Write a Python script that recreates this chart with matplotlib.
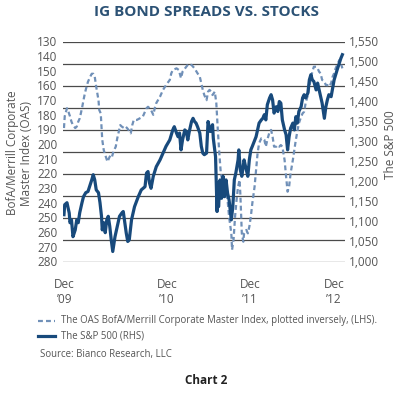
import numpy as np
import matplotlib
matplotlib.use("Agg")
import matplotlib.pyplot as plt

plt.rcParams['font.family'] = ['Open Sans', 'DejaVu Sans']

# months since end of Dec 2009
sp_month = [0.0, 0.1, 0.4, 0.7, 0.8, 1.0, 1.2, 1.5, 1.7, 1.9, 2.1, 2.4, 2.6, 2.9, 3.2, 3.5, 3.7, 3.9,
            4.1, 4.3, 4.6, 4.8, 5.0, 5.1, 5.3, 5.5, 5.7, 5.9, 6.1, 6.3, 6.5, 6.8, 7.0, 7.2, 7.4, 7.7,
            7.9, 8.1, 8.3, 8.5, 8.7, 9.0, 9.4, 9.9, 10.3, 10.8, 11.0, 11.2, 11.4, 11.6, 11.9, 12.3,
            12.8, 13.2, 13.6, 14.1, 14.5, 14.7, 15.0, 15.2, 15.4, 15.6, 15.8, 16.1, 16.3, 16.5, 16.7,
            17.0, 17.2, 17.4, 17.6, 17.8, 18.1, 18.3, 18.5, 18.7, 19.0, 19.2, 19.5, 19.8, 19.9, 20.2,
            20.4, 20.5, 20.6, 20.8, 21.0, 21.2, 21.4, 21.6, 21.8, 22.0, 22.3, 22.5, 22.7, 22.9, 23.2,
            23.3, 23.5, 23.7, 24.0, 24.2, 24.5, 24.7, 24.9, 25.1, 25.6, 25.8, 26.0, 26.3, 26.5, 26.7,
            26.9, 27.1, 27.4, 27.6, 27.8, 28.0, 28.3, 28.5, 28.7, 28.9, 29.1, 29.4, 29.6, 29.8, 30.0,
            30.2, 30.5, 30.7, 30.9, 31.1, 31.3, 31.6, 31.8, 32.0, 32.2, 32.5, 32.7, 32.9, 33.1, 33.3,
            33.6, 33.8, 34.0, 34.2, 34.4, 34.7, 34.9, 35.1, 35.3, 35.6, 35.8, 36.0, 36.2, 36.4, 36.7,
            36.9, 37.1]
sp500 = [1117, 1142, 1147, 1121, 1097, 1104, 1062, 1079, 1104, 1097, 1122, 1147, 1162, 1172, 1175, 1192,
         1204, 1217, 1204, 1179, 1172, 1147, 1113, 1079, 1097, 1072, 1104, 1113, 1088, 1054, 1025, 1062,
         1079, 1097, 1113, 1121, 1125, 1097, 1071, 1050, 1054, 1104, 1137, 1162, 1179, 1187, 1221, 1225,
         1196, 1183, 1213, 1237, 1254, 1271, 1288, 1304, 1329, 1337, 1321, 1312, 1321, 1279, 1304, 1329,
         1325, 1304, 1325, 1350, 1358, 1350, 1346, 1337, 1321, 1288, 1271, 1267, 1271, 1350, 1325, 1342,
         1308, 1262, 1125, 1197, 1137, 1204, 1158, 1213, 1162, 1204, 1171, 1154, 1104, 1137, 1204, 1221,
         1254, 1279, 1229, 1213, 1254, 1237, 1213, 1254, 1279, 1288, 1312, 1329, 1346, 1354, 1358, 1367,
         1354, 1392, 1409, 1417, 1404, 1371, 1387, 1375, 1400, 1396, 1354, 1329, 1317, 1279, 1312, 1333,
         1346, 1329, 1362, 1346, 1375, 1387, 1409, 1417, 1409, 1421, 1454, 1467, 1454, 1450, 1429, 1446,
         1429, 1412, 1396, 1358, 1387, 1404, 1417, 1412, 1433, 1454, 1467, 1479, 1496, 1508, 1517]

oas_month = [0.0, 0.1, 0.4, 0.6, 0.8, 1.0, 1.2, 1.5, 1.7, 1.9, 2.1, 2.4, 2.6, 2.8, 3.0, 3.2, 3.5, 3.7,
             3.9, 4.1, 4.3, 4.6, 4.7, 4.9, 5.0, 5.1, 5.3, 5.5, 5.8, 6.0, 6.2, 6.4, 6.6, 6.9, 7.1, 7.3,
             7.5, 7.7, 8.0, 8.2, 8.4, 8.6, 8.9, 9.1, 9.3, 9.7, 10.1, 10.5, 10.8, 11.0, 11.2, 11.4, 11.6,
             11.9, 12.1, 12.3, 12.8, 13.2, 13.6, 14.1, 14.3, 14.5, 15.0, 15.3, 15.6, 15.8, 16.3, 16.6,
             17.0, 17.4, 17.8, 18.1, 18.3, 18.5, 18.7, 19.0, 19.2, 19.4, 19.6, 19.8, 20.1, 20.3, 20.5,
             20.7, 20.9, 21.2, 21.4, 21.6, 21.8, 22.0, 22.3, 22.4, 22.6, 22.8, 23.0, 23.2, 23.4, 23.5,
             23.6, 23.7, 23.9, 24.0, 24.3, 24.5, 24.7, 24.9, 25.1, 25.4, 25.6, 25.8, 26.0, 26.3, 26.5,
             26.7, 26.9, 27.1, 27.4, 27.6, 27.8, 28.0, 28.3, 28.5, 28.7, 28.9, 29.1, 29.4, 29.6, 29.8,
             30.0, 30.2, 30.5, 30.7, 30.9, 31.1, 31.3, 31.6, 31.8, 32.0, 32.2, 32.5, 32.7, 32.9, 33.1,
             33.3, 33.6, 33.8, 34.0, 34.2, 34.4, 34.7, 34.9, 35.1, 35.3, 35.6, 35.8, 36.0, 36.2, 36.4,
             36.7, 36.9, 37.1]
oas = [189, 181, 175.5, 178, 181, 184.7, 187, 189, 188, 184.7, 182.4, 175.5, 170, 165, 161, 157.4, 154,
       152, 152, 154, 161, 170, 176.7, 179, 188, 197, 204, 207.4, 212, 209.6, 207.4, 208.5, 205, 201.7,
       196, 191.5, 187, 188, 189, 188, 189, 190.3, 192.6, 187, 183.5, 183.5, 182.4, 181.3, 177.9, 175.5,
       174.5, 175.5, 176.7, 180, 175.5, 172, 167.6, 163, 159.7, 156.2, 151.7, 149.4, 148.3, 149.4, 155,
       150.6, 147.2, 145.3, 146, 148.3, 151.7, 154, 158.5, 163, 166.5, 170, 164.2, 163, 164.2, 166.5,
       164.2, 172, 190.3, 206, 219.9, 226.7, 225.6, 232.4, 238, 249.4, 260.8, 272, 265, 249.4, 238, 229,
       224.4, 233.5, 247, 260.8, 266.5, 260.8, 258.5, 260.8, 256.3, 249.4, 240.3, 229, 217.6, 206.2,
       199.4, 196, 196, 197, 201.7, 197, 191.5, 190.3, 195, 201.7, 201.7, 200.6, 201.7, 200.6, 201.7,
       210.8, 222.2, 232.4, 229, 219.9, 210.8, 204, 197, 191.5, 185.8, 181.3, 179, 177.9, 172.1, 166.5,
       160.8, 155.1, 150.6, 147.2, 147.2, 148.3, 150.6, 151.7, 156.2, 157.4, 159.7, 159.7, 160.8, 158.5,
       154, 151.7, 148.3, 146, 142.6, 144.9, 148.3]

x_tick_pos = [0.1, 13.7, 24.8, 36.0]
x_tick_labels = ["Dec\n\u201909", "Dec\n\u201910", "Dec\n\u201911", "Dec\n\u201912"]
left_ticks = list(range(130, 290, 10))
right_ticks = list(range(1000, 1600, 50))

W, H = 401, 394
fig = plt.figure(figsize=(W / 100, H / 100), dpi=100)
ax = fig.add_axes([63 / W, 1 - 261.5 / H, 282 / W, 220 / H])
ax2 = ax.twinx()

navy = "#184a7c"
light = "#7090b8"
txt = "#555555"

ax.set_xlim(-0.13, 37.45)
ax.set_ylim(280, 130)
ax2.set_ylim(1000, 1550)

# 10 even grid bands, independent of the tick labels
for g in np.linspace(130, 280, 11):
    ax.axhline(g, color="#4a4a4a", lw=0.9, zorder=1)

ax.plot(oas_month, oas, color=light, lw=1.6, ls=(0, (2.2, 1.4)), zorder=3)
ax2.plot(sp_month, sp500, color=navy, lw=2.3, zorder=3)

for a in (ax, ax2):
    for s in a.spines.values():
        s.set_visible(False)
    a.tick_params(length=0, labelsize=8.5, labelcolor=txt)

ax.set_yticks(left_ticks)
ax.tick_params(axis="y", pad=4)
ax2.set_yticks(right_ticks)
ax2.set_yticklabels([f"{v:,}" for v in right_ticks])
ax2.tick_params(axis="y", pad=3)
ax.set_xticks(x_tick_pos)
ax.set_xticklabels(x_tick_labels, linespacing=1.2)
ax.tick_params(axis="x", pad=12)

fig.text(20 / W, 1 - 153 / H, "BofA/Merrill Corporate\nMaster Index (OAS)", rotation=90,
         ha="center", va="center", fontsize=8.5, color=txt, linespacing=1.1)
fig.text(391 / W, 1 - 145 / H, "The S&P 500", rotation=90, ha="center", va="center",
         fontsize=8.5, color=txt)

fig.text(206 / W, 1 - 12 / H, "IG BOND SPREADS VS. STOCKS", ha="center", va="center",
         fontsize=11, fontweight="bold", color="#2c5275")

# legend
fig.add_artist(plt.Line2D([38 / W, 55 / W], [1 - 321 / H] * 2, color=light, lw=1.6,
                          ls=(0, (2.2, 1.4))))
fig.add_artist(plt.Line2D([38 / W, 55 / W], [1 - 336 / H] * 2, color=navy, lw=2.3))
fig.text(61 / W, 1 - 321 / H, "The OAS BofA/Merrill Corporate Master Index, plotted inversely, (LHS).",
         ha="left", va="center", fontsize=6.9, color=txt)
fig.text(61 / W, 1 - 336 / H, "The S&P 500 (RHS)", ha="left", va="center", fontsize=6.9, color=txt)
fig.text(40 / W, 1 - 355 / H, "Source: Bianco Research, LLC", ha="left", va="center",
         fontsize=6.9, color=txt)
fig.text(206 / W, 1 - 381 / H, "Chart 2", ha="center", va="center", fontsize=8.5,
         fontweight="bold", color="#222222")

fig.savefig("out.png", dpi=100)
